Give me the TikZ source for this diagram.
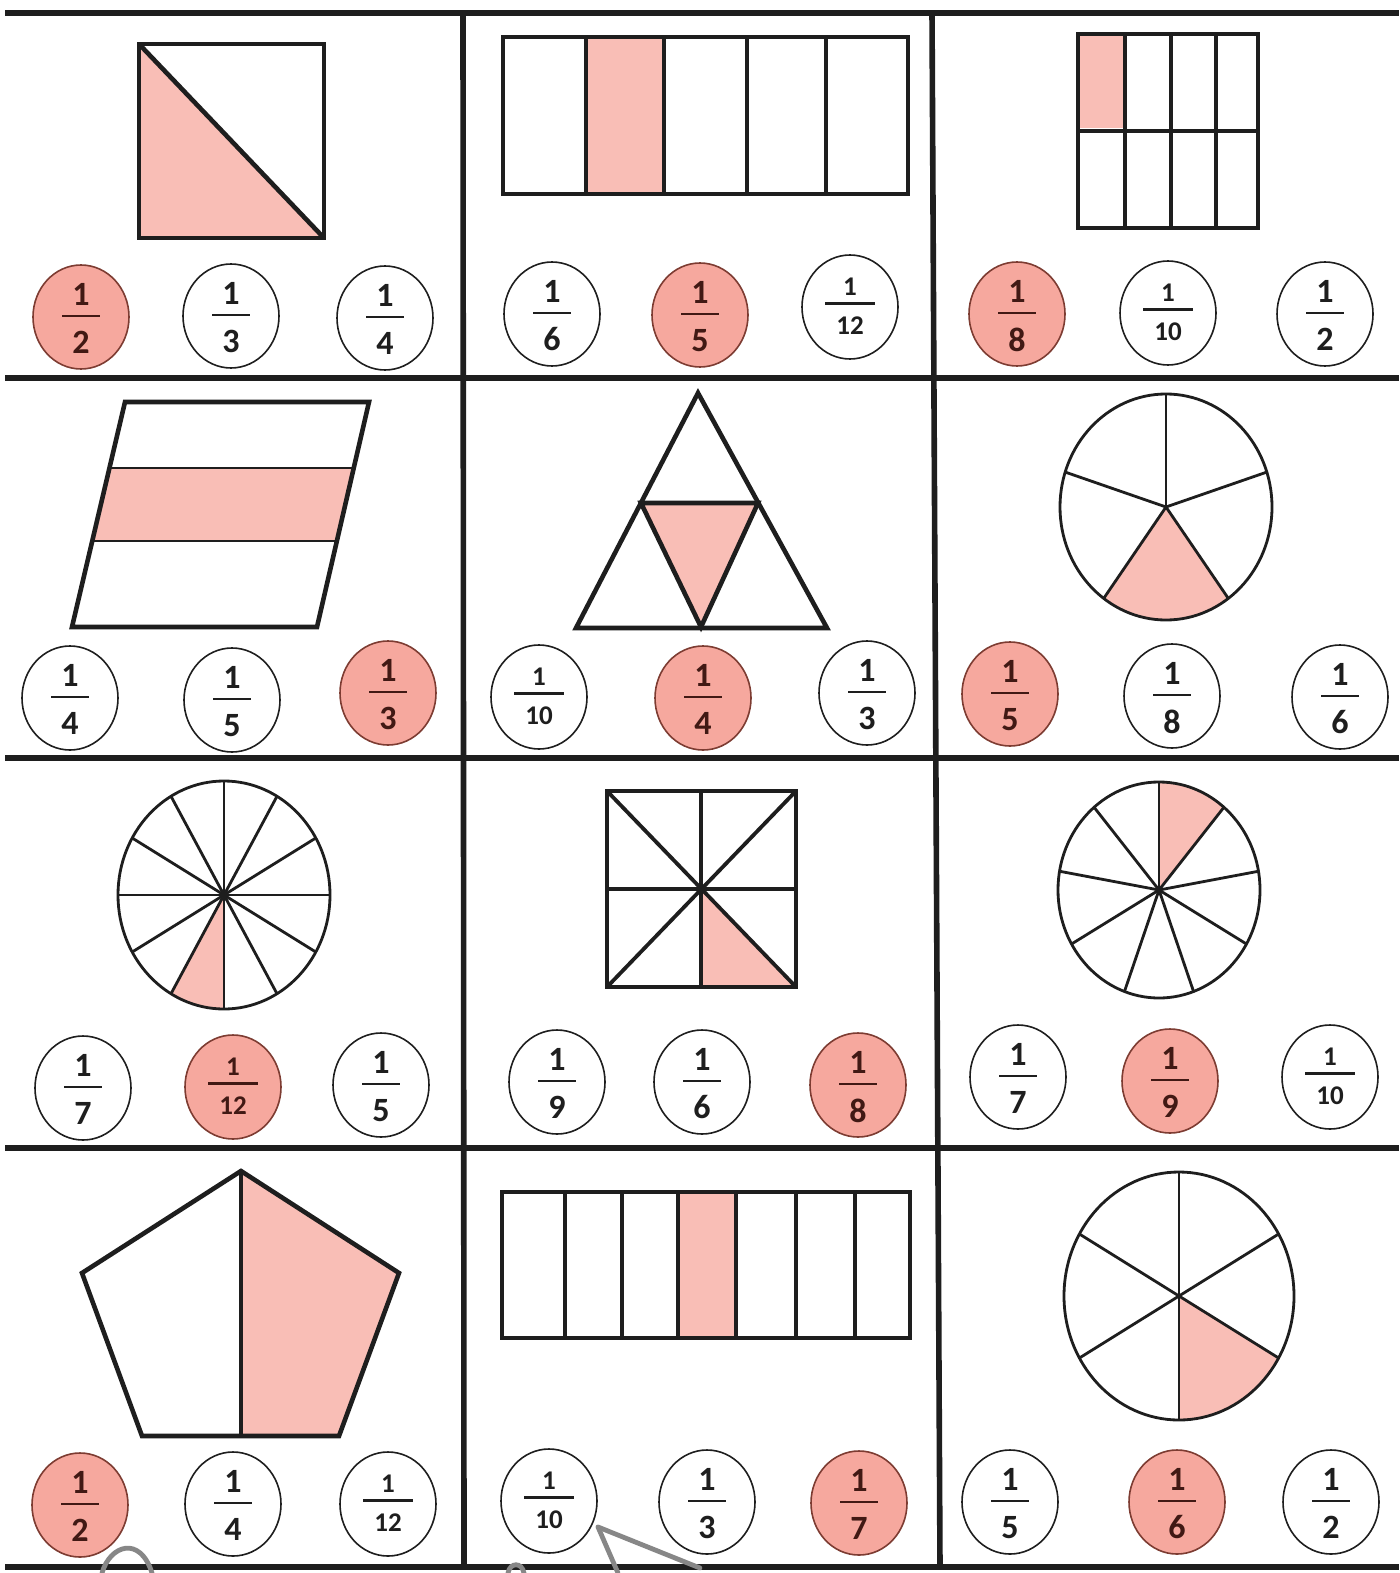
\documentclass[tikz,border=0pt]{standalone}
\usepackage{fontspec}
\setmainfont{Carlito}
\usetikzlibrary{shapes.geometric}
\definecolor{ink}{RGB}{30,30,30}
\definecolor{pinkfill}{RGB}{249,190,182}
\definecolor{hitfill}{RGB}{246,168,158}
\definecolor{hitline}{RGB}{125,60,50}
\definecolor{hittext}{RGB}{65,25,20}
\definecolor{scribble}{RGB}{135,135,135}
\tikzset{
  gridline/.style={line width=2.8pt, draw=ink},
  outline/.style={line width=2.3pt, draw=ink, line join=miter},
  divider/.style={line width=1.9pt, draw=ink},
  thindiv/.style={line width=1.4pt, draw=ink},
  pieline/.style={line width=1.4pt, draw=ink},
  part/.style={fill=pinkfill},
  fcirc/.style={ellipse, draw=ink, line width=0.8pt, minimum width=48pt, minimum height=52pt, inner sep=0pt},
  hit/.style={fill=hitfill, draw=hitline},
  nohit/.style={fill=white},
  hit num/.style={color=hittext},
  nohit num/.style={color=ink},
  bignum/.style={font=\fontsize{17}{18}\selectfont\bfseries, inner sep=0pt},
  smallnum/.style={font=\fontsize{13.5}{15}\selectfont\bfseries, inner sep=0pt},
  fbar/.style={line width=1.1pt},
  scrib/.style={line width=2.4pt, draw=scribble, line cap=round},
}
% big fraction circle: name, x, y, denominator, hit/nohit
\newcommand\FB[5]{%
  \node[fcirc,#5] (#1) at (#2,#3) {};
  \node[bignum,#5 num] (#1n) at ([yshift=11.25pt]#1.center) {1};
  \draw[fbar,#5 num] ([xshift=-9.5pt,yshift=0.5pt]#1.center) -- ([xshift=9.5pt,yshift=0.5pt]#1.center);
  \node[bignum,#5 num] (#1d) at ([yshift=-12.75pt]#1.center) {#4};
}
% small fraction circle (two-digit denominator)
\newcommand\FS[5]{%
  \node[fcirc,#5] (#1) at (#2,#3) {};
  \node[smallnum,#5 num] (#1n) at ([yshift=10.25pt]#1.center) {1};
  \draw[fbar,#5 num] ([xshift=-12.5pt,yshift=1.75pt]#1.center) -- ([xshift=12.5pt,yshift=1.75pt]#1.center);
  \node[smallnum,#5 num] (#1d) at ([yshift=-9.25pt]#1.center) {#4};
}
\begin{document}
\begin{tikzpicture}[x=0.5pt,y=-0.5pt]
\fill[white] (0,0) rectangle (1399,1573);
\useasboundingbox (0,0) rectangle (1399,1573);

% ---------- Row 1 ----------
% cell (1,1): square with diagonal
\fill[part] (139,44) -- (139,238) -- (324,238) -- cycle;
\draw[outline] (139,44) rectangle (324,238);
\draw[outline] (139,44) -- (324,238);
% cell (1,2): 5 columns
\fill[part] (586,37) rectangle (664,194);
\draw[outline] (503,37) rectangle (908,194);
\foreach \x in {586,664,747,826} \draw[divider] (\x,37) -- (\x,194);
% cell (1,3): 4x2 grid
\fill[part] (1080,36) rectangle (1123,128);
\draw[outline] (1078,34) rectangle (1258,228);
\foreach \x in {1125,1171,1216} \draw[outline] (\x,34) -- (\x,228);
\draw[outline] (1078,131) -- (1258,131);

% ---------- Row 2 ----------
% cell (2,1): parallelogram in three bands
\fill[part] (109.5,468) -- (353.7,468) -- (337,541) -- (92,541) -- cycle;
\draw[outline] (125,402) -- (369,402) -- (317,627) -- (72,627) -- cycle;
\draw[thindiv] (109.5,468) -- (353.7,468);
\draw[thindiv] (92,541) -- (337,541);
% cell (2,2): triangle of triangles
\fill[part] (641,503) -- (758,503) -- (701,627) -- cycle;
\draw[outline] (698,393) -- (827,628) -- (576,628) -- cycle;
\draw[outline] (641,503) -- (758,503) -- (701,627) -- cycle;
% cell (2,3): circle in 5 sectors
\begin{scope}[shift={(1166,507)}, yscale=-1]
  \fill[part] (0,0) -- (234:106 and 113) arc[start angle=234, end angle=306, x radius=106, y radius=113] -- cycle;
  \foreach \a in {90,162,234,306,18} \draw[pieline] (0,0) -- (\a:106 and 113);
  \draw[pieline] (0,0) ellipse [x radius=106, y radius=113];
\end{scope}

% ---------- Row 3 ----------
% cell (3,1): circle in 12 sectors
\begin{scope}[shift={(224,895)}, yscale=-1]
  \fill[part] (0,0) -- (240:106 and 114) arc[start angle=240, end angle=270, x radius=106, y radius=114] -- cycle;
  \foreach \a in {0,30,...,330} \draw[pieline] (0,0) -- (\a:106 and 114);
  \draw[pieline] (0,0) ellipse [x radius=106, y radius=114];
\end{scope}
% cell (3,2): square in 8 triangles
\fill[part] (701,889) -- (701,987) -- (796,987) -- cycle;
\draw[divider] (607,791) -- (796,987);
\draw[divider] (796,791) -- (607,987);
\draw[divider] (701,791) -- (701,987);
\draw[divider] (607,889) -- (796,889);
\draw[outline] (607,791) rectangle (796,987);
% cell (3,3): circle in 9 sectors
\begin{scope}[shift={(1159,890)}, yscale=-1]
  \fill[part] (0,0) -- (50:101 and 108) arc[start angle=50, end angle=90, x radius=101, y radius=108] -- cycle;
  \foreach \a in {90,130,...,410} \draw[pieline] (0,0) -- (\a:101 and 108);
  \draw[pieline] (0,0) ellipse [x radius=101, y radius=108];
\end{scope}

% ---------- Row 4 ----------
% cell (4,1): pentagon in halves
\fill[part] (241,1171) -- (399,1273) -- (339,1436) -- (241,1436) -- cycle;
\draw[outline] (241,1171) -- (399,1273) -- (339,1436) -- (142,1436) -- (82,1273) -- cycle;
\draw[divider] (241,1171) -- (241,1436);
% cell (4,2): 7 columns
\fill[part] (678,1192) rectangle (736,1338);
\draw[outline] (502,1192) rectangle (910,1338);
\foreach \x in {565,622,678,736,796,855} \draw[divider] (\x,1192) -- (\x,1338);
% cell (4,3): circle in 6 sectors
\begin{scope}[shift={(1179,1296)}, yscale=-1]
  \fill[part] (0,0) -- (-90:115 and 124) arc[start angle=-90, end angle=-30, x radius=115, y radius=124] -- cycle;
  \foreach \a in {90,30,-30,-90,-150,150} \draw[pieline] (0,0) -- (\a:115 and 124);
  \draw[pieline] (0,0) ellipse [x radius=115, y radius=124];
\end{scope}

% ---------- grid ----------
\draw[gridline] (5,13) -- (1399,13);
\draw[gridline] (5,378) -- (1399,378);
\draw[gridline] (5,758) -- (1399,758);
\draw[gridline] (5,1148) -- (1399,1148);
\draw[gridline] (5,1567) -- (1399,1567);
\draw[gridline] (463,13) -- (464,1567);
\draw[gridline] (932,13) -- (940,1567);

% ---------- fraction circles ----------
\FB{a1}{81}{317}{2}{hit}
\FB{a2}{231}{316}{3}{nohit}
\FB{a3}{385}{318}{4}{nohit}
\FB{b1}{552}{314}{6}{nohit}
\FB{b2}{700}{315}{5}{hit}
\FS{b3}{850}{307}{12}{nohit}
\FB{c1}{1017}{314}{8}{hit}
\FS{c2}{1168}{313}{10}{nohit}
\FB{c3}{1325}{314}{2}{nohit}

\FB{d1}{70}{698}{4}{nohit}
\FB{d2}{232}{700}{5}{nohit}
\FB{d3}{388}{693}{3}{hit}
\FS{e1}{539}{697}{10}{nohit}
\FB{e2}{703}{698}{4}{hit}
\FB{e3}{867}{693}{3}{nohit}
\FB{f1}{1010}{694}{5}{hit}
\FB{f2}{1172}{696}{8}{nohit}
\FB{f3}{1340}{697}{6}{nohit}

\FB{g1}{83}{1088}{7}{nohit}
\FS{g2}{233}{1087}{12}{hit}
\FB{g3}{381}{1085}{5}{nohit}
\FB{h1}{557}{1082}{9}{nohit}
\FB{h2}{702}{1082}{6}{nohit}
\FB{h3}{858}{1085}{8}{hit}
\FB{i1}{1018}{1077}{7}{nohit}
\FB{i2}{1170}{1081}{9}{hit}
\FS{i3}{1330}{1077}{10}{nohit}

\FB{j1}{80}{1505}{2}{hit}
\FB{j2}{233}{1504}{4}{nohit}
\FS{j3}{388}{1504}{12}{nohit}
\FS{k1}{549}{1501}{10}{nohit}
\FB{k2}{707}{1502}{3}{nohit}
\FB{k3}{859}{1503}{7}{hit}
\FB{l1}{1010}{1502}{5}{nohit}
\FB{l2}{1177}{1502}{6}{hit}
\FB{l3}{1331}{1502}{2}{nohit}

% ---------- grey marks at the bottom edge ----------
\draw[scrib] (102,1573) .. controls (110,1545) and (140,1535) .. (152,1573);
\draw[scrib] (598,1527) -- (618,1573);
\draw[scrib] (598,1527) -- (700,1568);
\draw[scrib] (508,1573) .. controls (510,1562) and (522,1562) .. (524,1573);
\end{tikzpicture}
\end{document}
